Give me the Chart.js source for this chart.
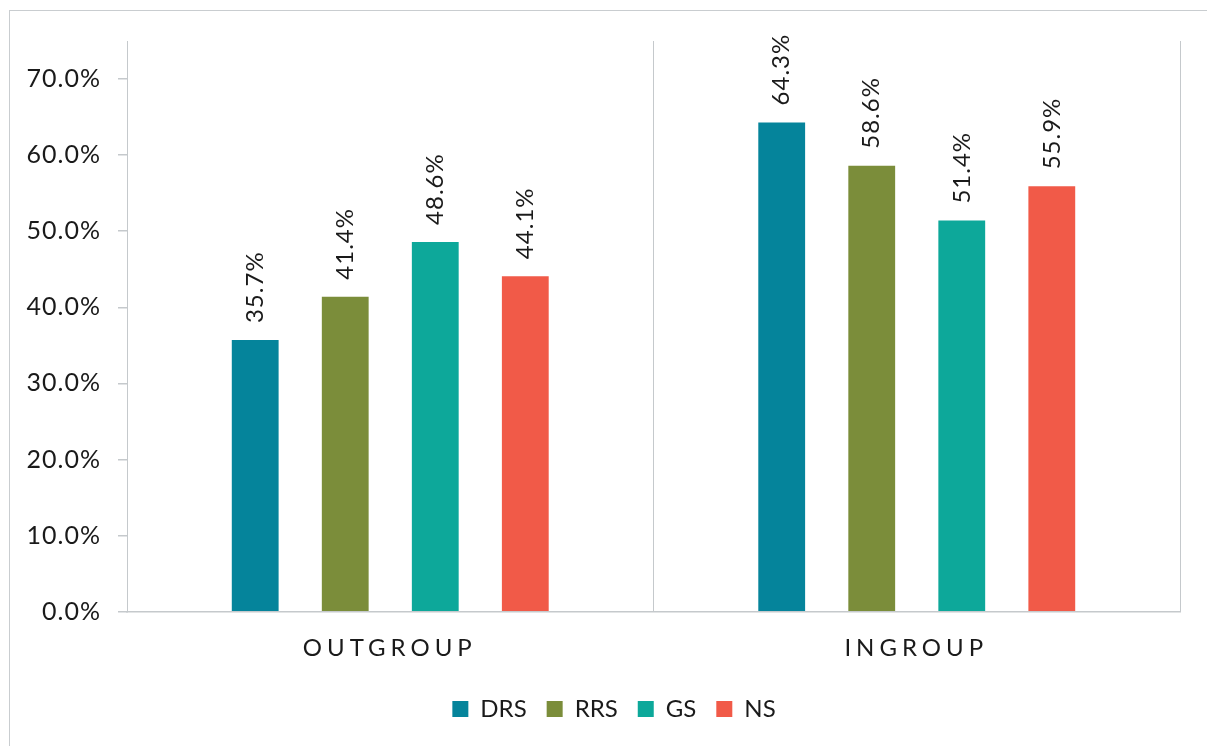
<!DOCTYPE html>
<html><head><meta charset="utf-8">
<script src="https://cdn.jsdelivr.net/npm/chart.js@4/dist/chart.umd.min.js"></script>
<style>
html,body{margin:0;padding:0;background:#fff;overflow:hidden;width:1207px;height:746px}
#frame{position:absolute;left:9px;top:10px;width:1300px;height:900px;border:1px solid #c9cdd0;box-sizing:border-box}
#wrap{position:absolute;left:0;top:0;width:1228px;height:746px}
</style></head><body>
<div id="frame"></div>
<div id="wrap"><canvas id="c" width="1228" height="746"></canvas></div>
<script>
const categories = ['OUTGROUP', 'INGROUP'];
const seriesNames = ['DRS', 'RRS', 'GS', 'NS'];
const drs = [35.7, 64.3];
const rrs = [41.4, 58.6];
const gs = [48.6, 51.4];
const ns = [44.1, 55.9];
const yTicks = [0, 10, 20, 30, 40, 50, 60, 70];
const colors = ['#05849B', '#7B8D3A', '#0DA89A', '#F15A48'];
const seriesValues = [drs, rrs, gs, ns];

const FONT = 'Lato';
const TEXT = '#1a1a1a';
const GRID = '#c5c9cc';

const barLabels = {
  id: 'barLabels',
  afterDatasetsDraw(chart) {
    const ctx = chart.ctx;
    ctx.save();
    ctx.font = '24px ' + FONT;
    ctx.letterSpacing = '1px';
    ctx.fillStyle = TEXT;
    ctx.textAlign = 'left';
    ctx.textBaseline = 'middle';
    chart.data.datasets.forEach((ds, i) => {
      chart.getDatasetMeta(i).data.forEach((bar, j) => {
        ctx.save();
        ctx.translate(bar.x, bar.y - 17);
        ctx.rotate(-Math.PI / 2);
        ctx.fillText(ds.data[j].toFixed(1) + '%', 0, 0);
        ctx.restore();
      });
    });
    ctx.restore();
  }
};

function wrapLabels(sc, spacing, dx) {
  if (!sc || sc._spacedWrap) return;
  const orig = sc.drawLabels;
  sc._computeLabelArea = function () { return undefined; };
  sc.drawLabels = function (area) {
    const ctx = this.ctx;
    ctx.save();
    ctx.letterSpacing = spacing + 'px';
    ctx.translate(dx, 0);
    orig.call(this, area);
    ctx.restore();
  };
  sc._spacedWrap = true;
}

const spacedLabels = {
  id: 'spacedLabels',
  beforeDraw(chart) {
    wrapLabels(chart.scales.x, 5, -0.5);
    wrapLabels(chart.scales.y, 1, 1);
  }
};

new Chart(document.getElementById('c'), {
  type: 'bar',
  data: {
    labels: categories,
    datasets: seriesNames.map((name, i) => ({
      label: name,
      data: seriesValues[i],
      backgroundColor: colors[i],
      borderWidth: 0,
      categoryPercentage: 0.684,
      barPercentage: 0.52
    }))
  },
  options: {
    responsive: false,
    animation: false,
    devicePixelRatio: 1,
    layout: { padding: { left: 48, right: 48, top: 41, bottom: 15 } },
    plugins: {
      legend: {
        position: 'bottom',
        labels: {
          boxWidth: 16, boxHeight: 16, padding: 20,
          color: TEXT, font: { family: FONT, size: 24 }
        }
      },
      tooltip: { enabled: false }
    },
    scales: {
      x: {
        offset: true,
        grid: { display: true, drawOnChartArea: true, drawTicks: false, color: GRID, lineWidth: 1, offset: true },
        border: { display: true, color: GRID, width: 1.5 },
        ticks: { color: TEXT, font: { family: FONT, size: 24 }, padding: 22 },
        afterFit(s) { s.height = 65.3; }
      },
      y: {
        min: 0, max: 75,
        afterBuildTicks(s) { s.ticks = yTicks.map(v => ({ value: v })); },
        grid: { drawOnChartArea: false, drawTicks: true, tickLength: 9, color: GRID, lineWidth: 1.5 },
        border: { display: true, color: GRID, width: 1 },
        ticks: {
          color: TEXT, font: { family: FONT, size: 25 }, padding: 18,
          callback: v => Number(v).toFixed(1) + '%'
        },
        afterFit(s) { s.width = 79; }
      }
    }
  },
  plugins: [barLabels, spacedLabels]
});
</script>
</body></html>
